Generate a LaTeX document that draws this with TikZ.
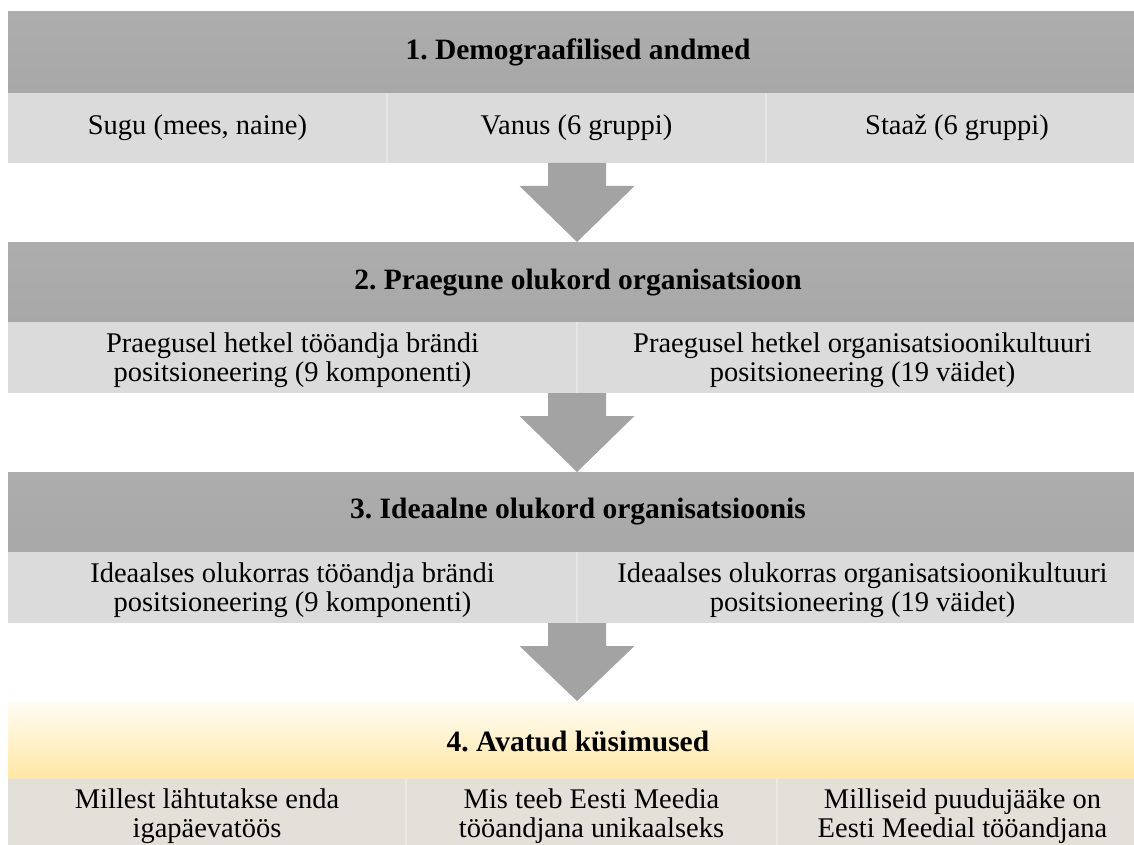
\documentclass[tikz,border=0pt]{standalone}
\usepackage{fontspec}
\setmainfont{Liberation Serif}
\usetikzlibrary{calc}
\frenchspacing
\definecolor{hdrtop}{HTML}{ADADAD}
\definecolor{hdrbot}{HTML}{A8A8A8}
\definecolor{cellgray}{HTML}{DBDBDB}
\definecolor{arrfill}{HTML}{A3A3A3}
\definecolor{yeltop}{HTML}{FFFDF5}
\definecolor{yelbot}{HTML}{FFE6A3}
\definecolor{beige}{HTML}{E3E0D9}
\definecolor{sepgray}{HTML}{E6E6E6}
\definecolor{sepbeige}{HTML}{ECEAE5}
\begin{document}
\begin{tikzpicture}[x=1pt,y=-1pt,
  box/.style={anchor=north west, inner sep=0pt, outer sep=0pt, draw=none},
  hdr/.style={box, top color=hdrtop, bottom color=hdrbot},
  yhdr/.style={box, top color=yeltop, bottom color=yelbot},
  cell/.style={box, fill=cellgray},
  bcell/.style={box, fill=beige},
  sep/.style={draw=sepgray, line width=1.5pt},
  bsep/.style={draw=sepbeige, line width=1.5pt},
  txt/.style={font=\fontsize{28.5}{28.5}\selectfont, align=center, inner sep=0pt},
  htxt/.style={font=\fontsize{29.5}{32}\selectfont\bfseries, inner sep=0pt},
  blockarrow/.style={fill=arrfill, draw=none}]
\useasboundingbox (0,0) rectangle (1134,845);
\clip (0,0) rectangle (1134,845);

% ---- level 1
\node[hdr, minimum width=1140pt, minimum height=81pt] (h1) at (8,12) {};
\node[cell, minimum width=379pt, minimum height=70pt] (c11) at (8,93) {};
\node[cell, minimum width=379pt, minimum height=70pt] (c12) at (387,93) {};
\node[cell, minimum width=382pt, minimum height=70pt] (c13) at (766,93) {};
\draw[sep] (c11.north east) -- (c11.south east);
\draw[sep] (c12.north east) -- (c12.south east);
\node[htxt] (t1) at (h1.center |- 0,52) {1. Demograafilised andmed};
\node[txt] (t11) at (c11.center |- 0,128) {Sugu (mees, naine)};
\node[txt] (t12) at (c12.center |- 0,128) {Vanus (6 gruppi)};
\node[txt] (t13) at (c13.center |- 0,128) {Staaž (6 gruppi)};

% ---- level 2
\node[hdr, minimum width=1140pt, minimum height=80pt] (h2) at (8,242) {};
\node[cell, minimum width=569pt, minimum height=71pt] (c21) at (8,322) {};
\node[cell, minimum width=571pt, minimum height=71pt] (c22) at (577,322) {};
\draw[sep] (c21.north east) -- (c21.south east);
\node[htxt] (t2) at (h2.center |- 0,283) {2. Praegune olukord organisatsioon};
\node[txt] (t21) at (c21.center |- 0,360) {Praegusel hetkel tööandja brändi\\positsioneering (9 komponenti)};
\node[txt] (t22) at (c22.center |- 0,360) {Praegusel hetkel organisatsioonikultuuri\\positsioneering (19 väidet)};

% ---- level 3
\node[hdr, minimum width=1140pt, minimum height=80pt] (h3) at (8,472) {};
\node[cell, minimum width=569pt, minimum height=71pt] (c31) at (8,552) {};
\node[cell, minimum width=571pt, minimum height=71pt] (c32) at (577,552) {};
\draw[sep] (c31.north east) -- (c31.south east);
\node[htxt] (t3) at (h3.center |- 0,512) {3. Ideaalne olukord organisatsioonis};
\node[txt] (t31) at (c31.center |- 0,590) {Ideaalses olukorras tööandja brändi\\positsioneering (9 komponenti)};
\node[txt] (t32) at (c32.center |- 0,590) {Ideaalses olukorras organisatsioonikultuuri\\positsioneering (19 väidet)};

% ---- level 4
\node[yhdr, minimum width=1140pt, minimum height=78pt] (h4) at (8,701) {};
\node[bcell, minimum width=398pt, minimum height=80pt] (c41) at (8,779) {};
\node[bcell, minimum width=371pt, minimum height=80pt] (c42) at (406,779) {};
\node[bcell, minimum width=371pt, minimum height=80pt] (c43) at (777,779) {};
\draw[bsep] (c41.north east) -- (c41.south east);
\draw[bsep] (c42.north east) -- (c42.south east);
\node[htxt] (t4) at (h4.center |- 0,741) {4. Avatud küsimused};
\node[txt] (t41) at (c41.center |- 0,816) {Millest lähtutakse enda\\igapäevatöös};
\node[txt] (t42) at (c42.center |- 0,816) {Mis teeb Eesti Meedia\\tööandjana unikaalseks};
\node[txt] (t43) at (c43.center |- 0,816) {Milliseid puudujääke on\\Eesti Meedial tööandjana};

% ---- block arrows between levels
\foreach \s/\t in {c12/h2, c21/h3, c31/h4}{
  \coordinate (top) at (\s.south -| c21.north east);
  \coordinate (tip) at (\t.north -| c21.north east);
  \fill[blockarrow] ($(top)+(-29,0)$) -- ($(top)+(29,0)$) -- ($(top)+(29,23)$)
    -- ($(top)+(57.5,23)$) -- (tip) -- ($(top)+(-57.5,23)$) -- ($(top)+(-29,23)$) -- cycle;
}
\end{tikzpicture}
\end{document}
